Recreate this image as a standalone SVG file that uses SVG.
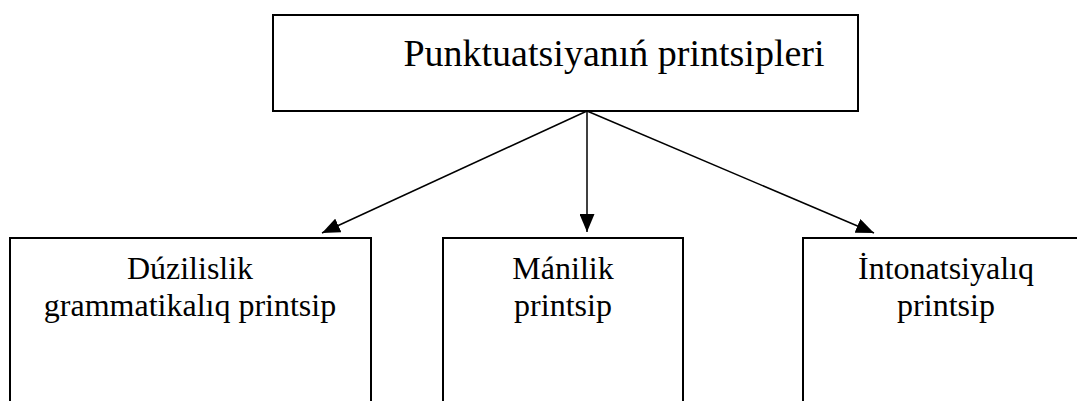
<svg xmlns="http://www.w3.org/2000/svg" width="1077" height="401" viewBox="0 0 1077 401">
<style>
.box{fill:#fff;stroke:#000;stroke-width:2}
.t{font-family:"Liberation Serif","Times New Roman",serif;fill:#000;text-anchor:middle}
.c{stroke:#000;stroke-width:1.5;fill:none}
</style>
<defs>
<marker id="ah" markerWidth="18" markerHeight="15" refX="18" refY="7.5" orient="auto" markerUnits="userSpaceOnUse" viewBox="0 0 18 15">
<path d="M0,0 L18,7.5 L0,15 z" fill="#000"/>
</marker>
</defs>
<rect width="1077" height="401" fill="#fff"/>
<g id="root">
<rect class="box" x="273" y="15" width="585" height="96"/>
<text class="t" x="614" y="66" font-size="38">Punktuatsiyanıń printsipleri</text>
</g>
<g id="n1">
<rect class="box" x="10" y="238" width="361" height="180"/>
<text class="t" x="190" y="279" font-size="32">Dúzilislik</text>
<text class="t" x="190" y="316" font-size="32">grammatikalıq printsip</text>
</g>
<g id="n2">
<rect class="box" x="443" y="238" width="240" height="180"/>
<text class="t" x="563" y="279" font-size="32">Mánilik</text>
<text class="t" x="563" y="316" font-size="32">printsip</text>
</g>
<g id="n3">
<rect class="box" x="803" y="238" width="300" height="180"/>
<text class="t" x="946" y="279" font-size="32">İntonatsiyalıq</text>
<text class="t" x="946" y="316" font-size="32">printsip</text>
</g>
<g id="connectors">
<line class="c" x1="587" y1="111" x2="322" y2="233" marker-end="url(#ah)"/>
<line class="c" x1="587" y1="111" x2="587" y2="232" marker-end="url(#ah)"/>
<line class="c" x1="587" y1="111" x2="874" y2="233" marker-end="url(#ah)"/>
</g>
</svg>
